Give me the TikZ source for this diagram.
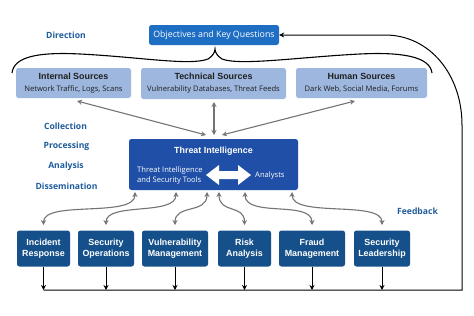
\documentclass[tikz,border=0pt]{standalone}
\usepackage{fontspec}
\setmainfont{Open Sans}
\newfontfamily\ttl{Liberation Sans}
\usetikzlibrary{arrows.meta,calc}
\definecolor{objblue}{HTML}{1E6FC4}
\definecolor{srcblue}{HTML}{9DB7DF}
\definecolor{tiblue}{HTML}{1F4FA6}
\definecolor{navy}{HTML}{15508A}
\definecolor{lblblue}{HTML}{1F5C9C}
\definecolor{arrgray}{HTML}{747474}
\newcommand\srctxt[2]{{\ttl\bfseries\fontsize{8.9}{11}\selectfont #1}\\{\fontsize{7.6}{11}\selectfont #2}}
\begin{document}
\begin{tikzpicture}[x=1pt,y=-1pt,
 box/.style={rounded corners=2.5pt, inner sep=0pt, align=center},
 src/.style={box, fill=srcblue, text=black!88, minimum height=30pt},
 dept/.style={box, fill=navy, text=white, minimum height=36pt, font=\ttl\bfseries\fontsize{8.9}{10.5}\selectfont},
 lbl/.style={text=lblblue, font=\bfseries\fontsize{8.6}{10}\selectfont},
 garr/.style={arrgray, line width=1.1pt, {Stealth[length=5pt,width=5pt]}-{Stealth[length=5pt,width=5pt]}},
 barr/.style={black, line width=1pt, -{Stealth[length=5pt,width=5pt]}},
]
\fill[white] (0,0) rectangle (474,316);
\useasboundingbox (0,0) rectangle (474,316);

% top
\node[box, fill=objblue, text=white, minimum width=130pt, minimum height=20pt, font=\fontsize{8.8}{10}\selectfont] (obj) at (214,35) {Objectives and Key Questions};
\node[lbl] (ldir) at (66,35) {Direction};

% brace
\draw[black, line width=1.1pt] (12,73) .. controls (14,56) and (40,52) .. (80,54)
  .. controls (140,57) and (190,66) .. (208,59) .. controls (213,56) and (215,52) .. (215,49)
  .. controls (215,52) and (217,56) .. (222,59) .. controls (240,66) and (300,57) .. (360,54)
  .. controls (400,52) and (430,56) .. (432,73);

% sources
\node[src, minimum width=115pt] (int) at (73.5,83) {\srctxt{Internal Sources}{Network Traffic, Logs, Scans}};
\node[src, minimum width=145pt, minimum height=31pt] (tech) at (213.5,83.5) {\srctxt{Technical Sources}{Vulnerability Databases, Threat Feeds}};
\node[src, minimum width=131pt] (hum) at (361.5,83) {\srctxt{Human Sources}{Dark Web, Social Media, Forums}};

% threat intelligence
\node[box, fill=tiblue, minimum width=169pt, minimum height=51pt] (ti) at (213.5,164.5) {};
\node[text=white, font=\ttl\bfseries\fontsize{8.9}{10}\selectfont] (tititle) at (213.5,151) {Threat Intelligence};
\node[text=white, align=left, anchor=west, inner sep=0pt, font=\fontsize{7.6}{10}\selectfont] (tools) at (137,175.5) {Threat Intelligence\\and Security Tools};
\node[text=white, anchor=west, inner sep=0pt, font=\fontsize{7.6}{10}\selectfont] (analysts) at (255,175.5) {Analysts};
\fill[white] (206,175) -- (219,165) -- (219,171) -- (238,171) -- (238,165) -- (251,175)
  -- (238,185) -- (238,179) -- (219,179) -- (219,185) -- cycle;

% source arrows
\coordinate (ia) at (206,135);
\coordinate (ta) at (214,135);
\coordinate (ha) at (222,135);
\draw[garr] (77,101) -- (ia);
\draw[garr] (214,102) -- (ta);
\draw[garr] (355,101) -- (ha);

% stage labels
\node[lbl] (lcol) at (65.5,126) {Collection};
\node[lbl] (lpro) at (66.5,146) {Processing};
\node[lbl] (lana) at (66,166) {Analysis};
\node[lbl] (ldis) at (66.5,186) {Dissemination};
\node[lbl] (lfb) at (417.5,211) {Feedback};

% departments
\node[dept, minimum width=53pt] (ir) at (43.5,248.5) {Incident\\Response};
\node[dept, minimum width=56pt] (so) at (106,248.5) {Security\\Operations};
\node[dept, minimum width=66pt] (vm) at (175,248.5) {Vulnerability\\Management};
\node[dept, minimum width=53pt] (ra) at (244.5,248.5) {Risk\\Analysis};
\node[dept, minimum width=66pt] (fm) at (312,248.5) {Fraud\\Management};
\node[dept, minimum width=56pt] (sl) at (382,248.5) {Security\\Leadership};

% curved feedback arrows
\coordinate (t1) at (135,192);
\coordinate (t2) at (176,192);
\coordinate (t3) at (207,192);
\coordinate (t4) at (219,192);
\coordinate (t5) at (245,192);
\coordinate (t6) at (292,192);
\coordinate (b1) at (43.5,225);
\coordinate (b2) at (106,225);
\coordinate (b3) at (175,225);
\coordinate (b4) at (244.5,225);
\coordinate (b5) at (312,225);
\coordinate (b6) at (382,225);
\draw[garr] (b1) .. controls (43.5,200) and (135,218) .. (t1);
\draw[garr] (b2) .. controls (106,202) and (176,216) .. (t2);
\draw[garr] (b3) .. controls (175,204) and (207,214) .. (t3);
\draw[garr] (b4) .. controls (244.5,204) and (219,214) .. (t4);
\draw[garr] (b5) .. controls (312,200) and (245,218) .. (t5);
\draw[garr] (b6) .. controls (382,200) and (292,218) .. (t6);

% output arrows and feedback loop
\coordinate (base) at (43.5,290);
\coordinate (corner) at (462,290);
\foreach \n in {ir,so,vm,ra,fm,sl}{
  \draw[barr] (\n.south) -- (\n.south |- base);
}
\draw[barr] (base) -- (corner) -- (462,125) .. controls (462,75) and (430,35) .. (385,35) -- (obj.east);
\end{tikzpicture}
\end{document}
